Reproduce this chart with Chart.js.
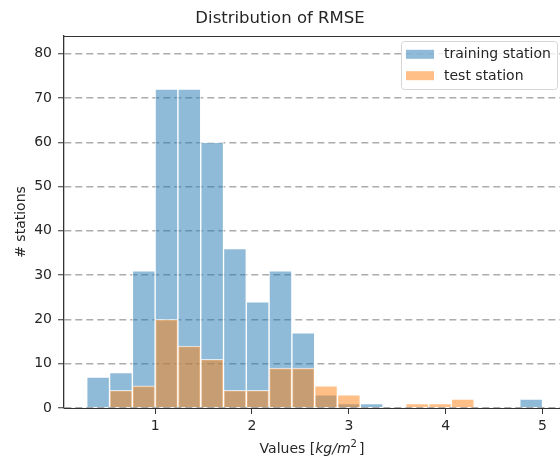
<!DOCTYPE html>
<html>
<head>
<meta charset="utf-8">
<script src="https://cdn.jsdelivr.net/npm/chart.js@4.4.1/dist/chart.umd.min.js"></script>
<style>
  body { margin: 0; background: #fff; }
</style>
</head>
<body>
<canvas id="chart-rmse-distribution" width="560" height="460"></canvas>
<script>
// bin edges shared by both histograms (kg/m2)
const binEdges = [0.294, 0.529, 0.765, 1.000, 1.235, 1.471, 1.706, 1.941, 2.176, 2.412,
  2.647, 2.882, 3.118, 3.353, 3.588, 3.824, 4.059, 4.294, 4.529, 4.765, 5.000];
// number of stations per bin
const trainingCounts = [7, 8, 31, 72, 72, 60, 36, 24, 31, 17, 3, 1, 1, 0, 0, 0, 0, 0, 0, 2];
const testCounts = [0, 4, 5, 20, 14, 11, 4, 4, 9, 9, 5, 3, 0, 0, 1, 1, 2, 0, 0, 0];
const seriesLabels = ['training station', 'test station'];
const xTicks = [1, 2, 3, 4, 5];
const yTicks = [0, 10, 20, 30, 40, 50, 60, 70, 80];

const FONT = '"DejaVu Sans", "Liberation Sans", sans-serif';
const colors = ['rgba(31, 119, 180, 0.5)', 'rgba(255, 127, 14, 0.5)'];

// histogram bars -> points at the bin centre, empty bins left out
function toPoints(counts) {
  const points = [];
  counts.forEach((count, i) => {
    if (count > 0) points.push({ x: (binEdges[i] + binEdges[i + 1]) / 2, y: count });
  });
  return points;
}

// matplotlib style legend inside the plot, top spine and x title
const frameLegendPlugin = {
  id: 'frameLegend',
  afterDraw(chart) {
    const ctx = chart.ctx;
    const area = chart.chartArea;
    ctx.save();
    ctx.strokeStyle = '#333';
    ctx.lineWidth = 1.2;
    ctx.beginPath();
    ctx.moveTo(area.left, area.top + 0.5);
    ctx.lineTo(area.right, area.top + 0.5);
    ctx.stroke();

    // legend box
    const bx = 401, by = 41, bw = 156, bh = 48;
    ctx.lineWidth = 1;
    ctx.beginPath();
    ctx.roundRect(bx + 0.5, by + 0.5, bw, bh, 3);
    ctx.fillStyle = 'rgba(255, 255, 255, 0.8)';
    ctx.fill();
    ctx.strokeStyle = '#d6d6d6';
    ctx.stroke();

    ctx.font = '14px ' + FONT;
    ctx.textBaseline = 'middle';
    seriesLabels.forEach((label, i) => {
      const rowY = 54.3 + i * 21.4;
      ctx.fillStyle = colors[i];
      ctx.fillRect(406, rowY - 4.5, 28, 9);
      ctx.fillStyle = '#262626';
      ctx.fillText(label, 444, rowY + 0.5);
    });

    // x axis title with italic unit and superscript
    const parts = [
      { text: 'Values [', font: '14px ' + FONT, dy: 0, gap: 0 },
      { text: 'kg/m', font: 'italic 14px ' + FONT, dy: 0, gap: 0 },
      { text: '2', font: '10px ' + FONT, dy: -6, gap: 0 },
      { text: ']', font: '14px ' + FONT, dy: 0, gap: 2 }
    ];
    let total = 0;
    parts.forEach(p => { ctx.font = p.font; p.w = ctx.measureText(p.text).width; total += p.w + p.gap; });
    let x = (area.left + area.right) / 2 - total / 2;
    ctx.fillStyle = '#262626';
    ctx.textBaseline = 'alphabetic';
    parts.forEach(p => {
      x += p.gap;
      ctx.font = p.font;
      ctx.fillText(p.text, x, 453 + p.dy);
      x += p.w;
    });
    ctx.restore();
  }
};

const ctx = document.getElementById('chart-rmse-distribution').getContext('2d');
const chartRmse = new Chart(ctx, {
  type: 'bar',
  data: {
    datasets: [
      {
        label: seriesLabels[0],
        data: toPoints(trainingCounts),
        backgroundColor: colors[0],
        borderColor: 'rgba(255, 255, 255, 0.7)',
        borderWidth: 1,
        order: 1
      },
      {
        label: seriesLabels[1],
        data: toPoints(testCounts),
        backgroundColor: colors[1],
        borderColor: 'rgba(255, 255, 255, 0.7)',
        borderWidth: 1,
        order: 0
      }
    ]
  },
  options: {
    responsive: false,
    animation: false,
    layout: { padding: 0 },
    datasets: {
      bar: { grouped: false, barPercentage: 1.0, categoryPercentage: 1.0 }
    },
    scales: {
      x: {
        type: 'linear',
        offset: false,
        min: 0.059,
        max: 5.18,
        z: 1,
        afterFit: scale => { scale.height = 52; },
        afterBuildTicks: scale => { scale.ticks = xTicks.map(v => ({ value: v })); },
        grid: { offset: false, drawOnChartArea: false, drawTicks: true, tickLength: 6, tickColor: '#333' },
        border: { display: true, color: '#333', width: 1 },
        ticks: { color: '#262626', padding: 4, font: { family: FONT, size: 14 } }
      },
      y: {
        min: 0,
        max: 84,
        z: 1,
        afterFit: scale => { scale.width = 64; },
        afterBuildTicks: scale => { scale.ticks = yTicks.map(v => ({ value: v })); },
        grid: { color: 'rgba(128, 128, 128, 0.65)', lineWidth: 1.5, tickLength: 6, tickColor: '#333', tickWidth: 1, tickBorderDash: [] },
        border: { display: true, color: '#333', width: 1.3, dash: [7, 4] },
        ticks: { color: '#262626', padding: 6, font: { family: FONT, size: 14 } },
        title: { display: true, text: '# stations', color: '#262626', font: { family: FONT, size: 14 }, padding: { top: 13, bottom: 0 } }
      }
    },
    plugins: {
      legend: { display: false },
      tooltip: { enabled: false },
      title: {
        display: true,
        text: 'Distribution of RMSE',
        color: '#262626',
        font: { family: FONT, size: 16.5, weight: 'normal' },
        padding: { top: 8.5, bottom: 7.7 }
      }
    }
  },
  plugins: [frameLegendPlugin]
});
</script>
</body>
</html>
